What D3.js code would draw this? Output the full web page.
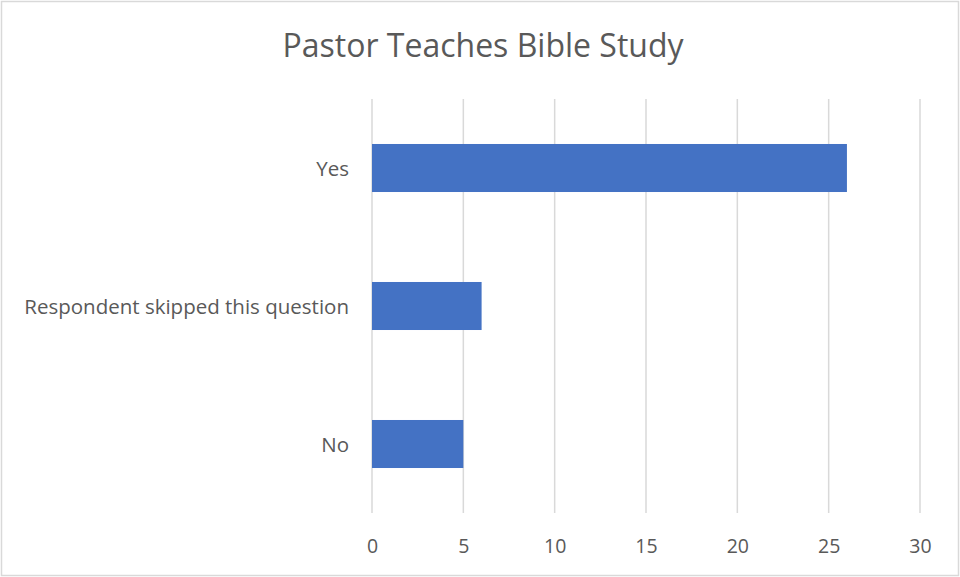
<!DOCTYPE html>
<html>
<head>
<meta charset="utf-8">
<script src="https://cdn.jsdelivr.net/npm/d3@7"></script>
<style>
  html, body { margin: 0; padding: 0; background: #fff; }
  svg { display: block; }
</style>
</head>
<body>
<svg id="chart" width="960" height="577"></svg>
<script>
// Survey answers and their counts
const categories = ["Yes", "Respondent skipped this question", "No"];
const counts = [26, 6, 5];
const xTicks = [0, 5, 10, 15, 20, 25, 30];
const title = "Pastor Teaches Bible Study";

const W = 960, H = 577;
const plot = { left: 372, right: 920, top: 99, bottom: 513 };
const font = "'Open Sans', sans-serif";
const textColor = "#595959";

const svg = d3.select("#chart");

// Outer frame
svg.append("rect")
  .attr("x", 1.5).attr("y", 1.5)
  .attr("width", W - 3).attr("height", H - 3)
  .attr("fill", "#fff").attr("stroke", "#d9d9d9").attr("stroke-width", 1.5);

const x = d3.scaleLinear().domain([0, 30]).range([plot.left, plot.right]);
const y = d3.scaleBand().domain(categories).range([plot.top, plot.bottom])
  .paddingInner(0.652).paddingOuter(0.326);

// Vertical gridlines
svg.append("g").selectAll("line").data(xTicks).join("line")
  .attr("x1", d => x(d)).attr("x2", d => x(d))
  .attr("y1", plot.top).attr("y2", plot.bottom)
  .attr("stroke", "#d9d9d9").attr("stroke-width", 1.5);

// Bars
svg.append("g").selectAll("rect").data(categories).join("rect")
  .attr("x", x(0))
  .attr("y", d => y(d))
  .attr("width", (d, i) => x(counts[i]) - x(0))
  .attr("height", y.bandwidth())
  .attr("fill", "#4472C4");

// Bottom axis labels
const xAxis = d3.axisBottom(x).tickValues(xTicks).tickSize(0).tickPadding(0);
const gx = svg.append("g").attr("transform", `translate(0,${plot.bottom})`).call(xAxis);
gx.select(".domain").remove();
gx.selectAll("text")
  .attr("dy", null).attr("y", 40)
  .attr("fill", textColor)
  .style("font-family", font).style("font-size", "19.5px");

// Category labels
const yAxis = d3.axisLeft(y).tickSize(0).tickPadding(0);
const gy = svg.append("g").attr("transform", `translate(${plot.left - 23},0)`).call(yAxis);
gy.select(".domain").remove();
gy.selectAll("text")
  .attr("fill", textColor)
  .attr("dy", null).attr("y", 8)
  .style("font-family", font).style("font-size", "20.5px");

// Title
svg.append("text")
  .attr("x", 483).attr("y", 57)
  .attr("text-anchor", "middle")
  .attr("fill", textColor)
  .style("font-family", font).style("font-size", "32px")
  .text(title);
</script>
</body>
</html>
